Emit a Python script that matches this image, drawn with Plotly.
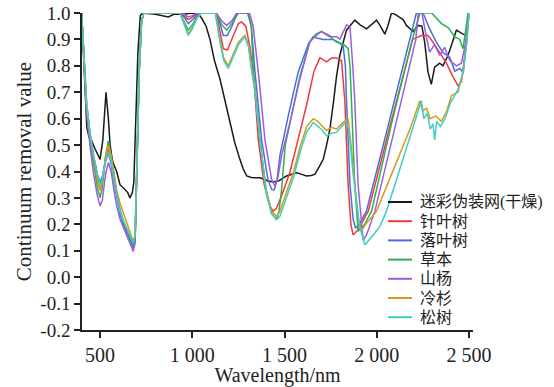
import plotly.graph_objects as go

# ---------------- data ----------------
names = ["迷彩伪装网(干燥)", "针叶树", "落叶树", "草本", "山杨", "冷杉", "松树"]
colors = ["#1a1a1a", "#f03a3a", "#4a6fdc", "#2fb04e", "#9a5ee0", "#d39b1c", "#3ccfc4"]

net_wl = [400, 417, 428, 440, 455, 470, 489, 500, 515, 532, 545, 554, 565, 572, 590, 608,
          635, 650, 662, 675, 683, 692, 705, 718, 730, 800, 840, 870, 900, 950, 1003, 1040,
          1051, 1075, 1096, 1120, 1150, 1180, 1204, 1230, 1258, 1276, 1295, 1320, 1367, 1412,
          1440, 1470, 1511, 1540, 1565, 1590, 1619, 1645, 1665, 1690, 1710, 1728, 1746, 1765,
          1782, 1800, 1836, 1881, 1910, 1945, 1975, 1999, 2020, 2044, 2060, 2080, 2100, 2125,
          2143, 2161, 2179, 2197, 2224, 2245, 2260, 2278, 2296, 2314, 2341, 2359, 2387, 2414,
          2432, 2468, 2490]
net_val = [1.0, 0.70, 0.567, 0.53, 0.516, 0.49, 0.465, 0.446, 0.52, 0.70, 0.60, 0.503, 0.45,
           0.43, 0.40, 0.35, 0.332, 0.32, 0.30, 0.32, 0.36, 0.55, 0.85, 0.99, 1.0, 0.995, 0.99,
           0.985, 0.995, 0.995, 1.0, 0.99, 0.98, 0.95, 0.90, 0.82, 0.75, 0.66, 0.585, 0.51,
           0.446, 0.41, 0.383, 0.377, 0.376, 0.364, 0.36, 0.365, 0.383, 0.39, 0.395, 0.39,
           0.383, 0.385, 0.39, 0.42, 0.446, 0.50, 0.56, 0.66, 0.76, 0.84, 0.935, 0.973, 0.955,
           0.94, 0.96, 0.973, 0.95, 0.92, 0.95, 1.0, 0.995, 0.985, 0.975, 0.953, 0.94, 0.93,
           0.953, 0.95, 0.89, 0.776, 0.73, 0.795, 0.81, 0.80, 0.84, 0.90, 0.935, 0.92, 0.915]

conifer_wl = [400, 415, 427, 445, 465, 485, 500, 512, 530, 545, 560, 575, 590, 608, 625, 644,
              662, 680, 690, 700, 712, 725, 737, 933, 955, 978, 1000, 1025, 1045, 1130, 1150,
              1168, 1190, 1220, 1250, 1267, 1290, 1310, 1331, 1358, 1390, 1420, 1439, 1455,
              1480, 1529, 1575, 1619, 1660, 1692, 1728, 1755, 1782, 1809, 1827, 1845, 1860,
              1872, 1900, 1954, 2075, 2195, 2242, 2278, 2305, 2341, 2378, 2414, 2441, 2459,
              2480, 2500]
conifer_val = [1.0, 0.78, 0.64, 0.53, 0.44, 0.37, 0.33, 0.36, 0.45, 0.485, 0.44, 0.37, 0.31,
               0.25, 0.21, 0.18, 0.145, 0.11, 0.14, 0.42, 0.78, 0.97, 1.0, 1.0, 0.99, 0.975,
               0.985, 0.995, 1.0, 1.0, 0.93, 0.865, 0.86, 0.91, 0.96, 0.966, 0.95, 0.88, 0.776,
               0.52, 0.35, 0.27, 0.25, 0.26, 0.30, 0.396, 0.52, 0.65, 0.78, 0.83, 0.815, 0.83,
               0.83, 0.82, 0.668, 0.35, 0.20, 0.16, 0.18, 0.25, 0.58, 0.90, 0.915, 0.915, 0.89,
               0.85, 0.81, 0.757, 0.725, 0.74, 0.85, 1.0]

broadleaf_wl = [400, 415, 427, 445, 465, 485, 500, 512, 530, 545, 560, 575, 590, 608, 625,
                644, 662, 680, 690, 700, 712, 725, 737, 933, 955, 978, 1000, 1025, 1045, 1130,
                1150, 1168, 1190, 1215, 1245, 1300, 1320, 1340, 1376, 1410, 1430, 1445, 1460,
                1475, 1520, 1574, 1628, 1655, 1674, 1710, 1764, 1791, 1818, 1830, 1836, 1855,
                1872, 1885, 1905, 1944, 2062, 2179, 2215, 2251, 2287, 2323, 2360, 2396, 2423,
                2450, 2468, 2485, 2500]
broadleaf_val = [1.0, 0.79, 0.66, 0.55, 0.46, 0.39, 0.36, 0.38, 0.44, 0.47, 0.43, 0.36, 0.30,
                 0.24, 0.20, 0.17, 0.14, 0.114, 0.14, 0.42, 0.78, 0.97, 1.0, 1.0, 0.985, 0.96,
                 0.975, 0.99, 1.0, 1.0, 0.96, 0.915, 0.915, 0.95, 1.0, 1.0, 0.95, 0.776, 0.52,
                 0.37, 0.332, 0.33, 0.37, 0.46, 0.61, 0.776, 0.88, 0.91, 0.905, 0.90, 0.90,
                 0.89, 0.875, 0.80, 0.668, 0.35, 0.22, 0.185, 0.20, 0.25, 0.573, 0.90, 1.0, 1.0,
                 0.94, 0.89, 0.85, 0.833, 0.78, 0.79, 0.776, 0.88, 1.0]

herb_wl = [400, 415, 427, 445, 465, 485, 500, 512, 530, 545, 560, 575, 590, 608, 625, 644,
           662, 680, 690, 700, 712, 725, 737, 933, 955, 978, 1000, 1025, 1045, 1130, 1160,
           1186, 1215, 1250, 1305, 1320, 1331, 1367, 1400, 1430, 1457, 1470, 1484, 1504, 1529,
           1583, 1637, 1670, 1700, 1746, 1782, 1818, 1845, 1855, 1863, 1881, 1899, 1935, 1972,
           2080, 2193, 2235, 2298, 2351, 2387, 2423, 2450, 2468, 2495]
herb_val = [1.0, 0.77, 0.63, 0.52, 0.42, 0.34, 0.30, 0.34, 0.46, 0.516, 0.46, 0.38, 0.32,
            0.255, 0.215, 0.185, 0.15, 0.12, 0.15, 0.42, 0.78, 0.97, 1.0, 1.0, 0.97, 0.935,
            0.955, 0.985, 1.0, 1.0, 0.955, 0.935, 0.96, 1.0, 1.0, 0.95, 0.776, 0.52, 0.33,
            0.24, 0.218, 0.25, 0.33, 0.50, 0.58, 0.76, 0.89, 0.92, 0.93, 0.91, 0.89, 0.883,
            0.865, 0.80, 0.668, 0.35, 0.174, 0.20, 0.25, 0.58, 0.90, 1.0, 1.0, 0.96, 0.945,
            0.91, 0.90, 0.865, 1.0]

aspen_wl = [400, 415, 427, 445, 465, 485, 500, 512, 530, 545, 560, 575, 590, 608, 625, 644,
            662, 680, 690, 700, 712, 725, 737, 933, 955, 978, 1000, 1025, 1045, 1130, 1160,
            1186, 1215, 1240, 1310, 1330, 1358, 1394, 1430, 1448, 1465, 1484, 1529, 1583,
            1637, 1665, 1700, 1755, 1782, 1800, 1836, 1855, 1870, 1881, 1899, 1917, 1926,
            1945, 1975, 1990, 2100, 2212, 2225, 2245, 2269, 2287, 2314, 2341, 2368, 2396,
            2432, 2459, 2480, 2500]
aspen_val = [1.0, 0.76, 0.62, 0.50, 0.39, 0.31, 0.27, 0.29, 0.39, 0.434, 0.40, 0.33, 0.27,
             0.22, 0.19, 0.16, 0.125, 0.097, 0.13, 0.42, 0.78, 0.97, 1.0, 1.0, 0.995, 0.985,
             0.99, 1.0, 1.0, 1.0, 0.97, 0.953, 0.97, 1.0, 1.0, 0.95, 0.776, 0.52, 0.37, 0.345,
             0.38, 0.46, 0.585, 0.75, 0.89, 0.91, 0.93, 0.91, 0.91, 0.90, 0.955, 0.95, 0.80,
             0.668, 0.35, 0.19, 0.14, 0.16, 0.22, 0.25, 0.57, 0.90, 1.0, 1.0, 0.91, 0.852,
             0.88, 0.84, 0.87, 0.82, 0.80, 0.81, 0.88, 1.0]

fir_wl = [400, 415, 427, 445, 465, 485, 500, 512, 530, 545, 560, 575, 590, 608, 625, 644,
          662, 680, 690, 700, 712, 725, 737, 933, 955, 978, 1000, 1025, 1045, 1125, 1150,
          1170, 1195, 1220, 1250, 1285, 1305, 1320, 1340, 1367, 1400, 1430, 1457, 1475, 1500,
          1550, 1583, 1620, 1656, 1680, 1700, 1728, 1755, 1782, 1818, 1845, 1858, 1872, 1899,
          1917, 1940, 1999, 2125, 2180, 2215, 2233, 2250, 2270, 2290, 2320, 2350, 2380, 2405,
          2441, 2470, 2490, 2500]
fir_val = [1.0, 0.78, 0.65, 0.54, 0.45, 0.37, 0.33, 0.36, 0.46, 0.50, 0.46, 0.39, 0.33,
           0.28, 0.245, 0.21, 0.17, 0.135, 0.16, 0.42, 0.78, 0.97, 1.0, 1.0, 0.96, 0.92,
           0.945, 0.98, 1.0, 1.0, 0.90, 0.83, 0.80, 0.84, 0.89, 0.915, 0.88, 0.80, 0.713,
           0.52, 0.33, 0.25, 0.23, 0.25, 0.30, 0.40, 0.49, 0.57, 0.60, 0.59, 0.575, 0.555,
           0.567, 0.56, 0.586, 0.60, 0.52, 0.415, 0.225, 0.175, 0.20, 0.25, 0.466, 0.56, 0.63,
           0.668, 0.63, 0.64, 0.60, 0.61, 0.59, 0.63, 0.687, 0.70, 0.78, 0.90, 1.0]

pine_wl = [400, 415, 427, 445, 465, 485, 500, 512, 530, 545, 560, 575, 590, 608, 625, 644,
           662, 680, 690, 700, 712, 725, 737, 933, 955, 978, 1000, 1025, 1045, 1125, 1150,
           1170, 1195, 1220, 1250, 1285, 1305, 1320, 1340, 1367, 1400, 1430, 1457, 1475, 1500,
           1550, 1583, 1620, 1656, 1700, 1728, 1755, 1782, 1836, 1850, 1872, 1908, 1936, 1970,
           2016, 2053, 2152, 2242, 2255, 2275, 2290, 2305, 2314, 2325, 2345, 2370, 2400, 2440,
           2470, 2490, 2500]
pine_val = [1.0, 0.79, 0.66, 0.55, 0.46, 0.39, 0.35, 0.37, 0.44, 0.475, 0.44, 0.37, 0.31,
            0.25, 0.215, 0.185, 0.155, 0.13, 0.16, 0.42, 0.78, 0.97, 1.0, 1.0, 0.96, 0.915,
            0.94, 0.98, 1.0, 1.0, 0.89, 0.82, 0.79, 0.83, 0.88, 0.91, 0.87, 0.79, 0.70, 0.52,
            0.32, 0.24, 0.218, 0.23, 0.28, 0.38, 0.47, 0.55, 0.585, 0.56, 0.535, 0.545, 0.548,
            0.59, 0.55, 0.39, 0.19, 0.123, 0.15, 0.19, 0.25, 0.466, 0.668, 0.60, 0.62, 0.56,
            0.58, 0.52, 0.59, 0.57, 0.60, 0.66, 0.71, 0.78, 0.90, 1.0]

x_tickvals = [500, 1000, 1500, 2000, 2500]
x_ticktext = ["500", "1 000", "1 500", "2 000", "2 500"]
y_tickvals = [1.0, 0.9, 0.8, 0.7, 0.6, 0.5, 0.4, 0.3, 0.2, 0.1, 0.0, -0.1, -0.2]
y_ticktext = ["1.0", "0.9", "0.8", "0.7", "0.6", "0.5", "0.4", "0.3", "0.2", "0.1", "0.0", "-0.1", "-0.2"]

series = [(net_wl, net_val), (conifer_wl, conifer_val), (broadleaf_wl, broadleaf_val),
          (herb_wl, herb_val), (aspen_wl, aspen_val), (fir_wl, fir_val), (pine_wl, pine_val)]

# ---------------- figure ----------------
W, H = 554, 387
ML, MR, MT, MB = 82, 81, 13, 57
PW, PH = W - ML - MR, H - MT - MB

fig = go.Figure()
for (wl, val), name, col in zip(series, names, colors):
    fig.add_trace(go.Scatter(x=wl, y=val, mode="lines", name=name, showlegend=False,
                             line=dict(color=col, width=1.5)))

# legend drawn in the reference's layout (line sample + label); positions in window pixels
def px2paper(px, py):
    return (px - ML) / PW, (H - MB - py) / PH

for i, (name, col) in enumerate(zip(names, colors)):
    cy = 202 + i * 19.2
    x0, y0 = px2paper(388, cy)
    x1, _ = px2paper(412, cy)
    xt, _ = px2paper(418, cy)
    fig.add_shape(type="line", xref="paper", yref="paper", x0=x0, x1=x1, y0=y0, y1=y0,
                  line=dict(color=col, width=2))
    fig.add_annotation(xref="paper", yref="paper", x=xt, y=y0, xanchor="left", yanchor="middle",
                       text=name, showarrow=False,
                       font=dict(family="Liberation Serif, Noto Sans CJK SC", size=16, color="#222222"))

serif = "Liberation Serif, Times New Roman, serif"
fig.update_layout(
    width=W, height=H,
    margin=dict(l=ML, r=MR, t=MT, b=MB, autoexpand=False),
    paper_bgcolor="white", plot_bgcolor="white",
    font=dict(family=serif, color="#222222", size=19),
    showlegend=False,
)
fig.update_xaxes(range=[402, 2522], tickmode="array", tickvals=x_tickvals, ticktext=x_ticktext,
                 automargin=False, ticklabeloverflow="allow",
                 showgrid=False, zeroline=False, showline=True, linecolor="#222222", linewidth=1.5,
                 ticks="outside", ticklen=6, tickwidth=1.5, tickcolor="#222222",
                 tickfont=dict(family=serif, size=20),
                 title=dict(text="Wavelength/nm", font=dict(family=serif, size=20), standoff=0))
fig.update_yaxes(range=[-0.2, 1.0], tickmode="array", tickvals=y_tickvals, ticktext=y_ticktext,
                 automargin=False, ticklabeloverflow="allow",
                 showgrid=False, zeroline=False, showline=True, linecolor="#222222", linewidth=1.5,
                 ticks="outside", ticklen=6, tickwidth=1.5, tickcolor="#222222",
                 tickfont=dict(family=serif, size=19),
                 title=dict(text="Continuum removal value", font=dict(family=serif, size=21), standoff=3))

# remove the default 8px page margin so the figure sits at the window's top-left corner
fig.write_html("out.html", config={"displayModeBar": False},
               post_script="document.body.style.margin='0';")
